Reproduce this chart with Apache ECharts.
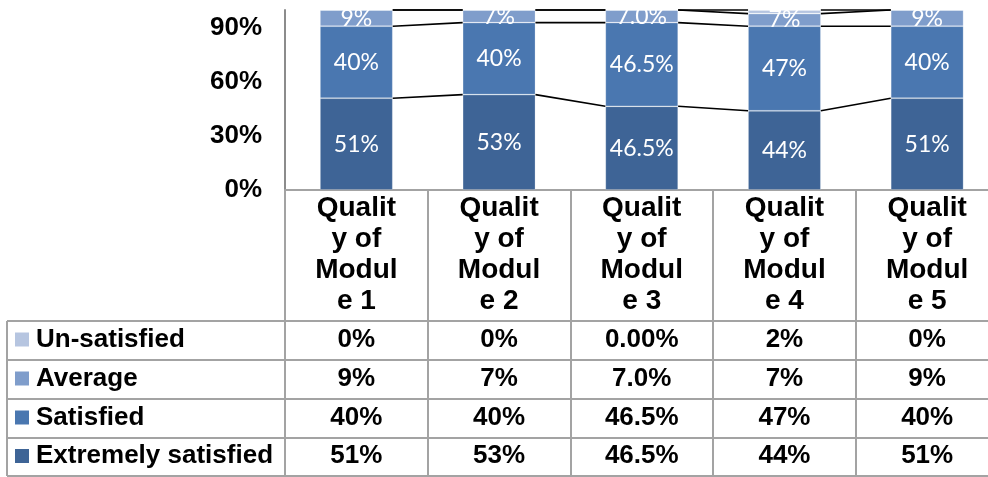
<!DOCTYPE html>
<html>
<head>
<meta charset="utf-8">
<script src="https://cdn.jsdelivr.net/npm/echarts@6/dist/echarts.min.js"></script>
<style>
  html, body { margin: 0; padding: 0; background: #fff; }
  #chart { width: 988px; height: 477px; }
</style>
</head>
<body>
<div id="chart"></div>
<script>
// Satisfaction survey, one stacked 100% column per module
const categories = ['Quality of Module 1', 'Quality of Module 2', 'Quality of Module 3', 'Quality of Module 4', 'Quality of Module 5'];
const extremelySatisfied = [51, 53, 46.5, 44, 51];
const satisfied = [40, 40, 46.5, 47, 40];
const average = [9, 7, 7, 7, 9];
const unSatisfied = [0, 0, 0, 2, 0];
// decimals used when a value is printed (Module 3 is printed with extra precision)
const extremelyDigits = [0, 0, 1, 0, 0];
const satisfiedDigits = [0, 0, 1, 0, 0];
const averageDigits = [0, 0, 1, 0, 0];
const unSatisfiedDigits = [0, 0, 2, 0, 0];
const seriesNames = ['Extremely satisfied', 'Satisfied', 'Average', 'Un-satisfied'];
const yTicks = [0, 30, 60, 90];

const colors = ['#3E6496', '#4A77B0', '#7F9DCB', '#B6C5E0'];
const BAR_RATIO = 0.51;
const GRID = { left: 285, top: 10, width: 713.5, height: 180 };
const TABLE_BOTTOM = 476;
const ROW_TOPS = [321, 360, 399, 438, 476];
const LINE_GRAY = '#a3a3a3';
const headerFont = 'bold 28px "Liberation Sans"';

const values = [extremelySatisfied, satisfied, average, unSatisfied];
const digits = [extremelyDigits, satisfiedDigits, averageDigits, unSatisfiedDigits];
const fmt = (v, d) => v.toFixed(d) + '%';

// cumulative top of each stacked segment, used for the series lines
const levels = values.map((_, k) =>
  categories.map((_, i) => values.slice(0, k + 1).reduce((s, arr) => s + arr[i], 0)));

// word wrap with a character break for words wider than the column text box
function wrapLabel(text, font, maxW) {
  const ctx = document.createElement('canvas').getContext('2d');
  ctx.font = font;
  const fits = s => ctx.measureText(s).width <= maxW;
  const lines = [];
  let cur = '';
  for (const w of text.split(' ')) {
    const trial = cur ? cur + ' ' + w : w;
    if (fits(trial)) { cur = trial; continue; }
    if (cur) { lines.push(cur); cur = ''; }
    let rest = w;
    while (!fits(rest)) {
      let n = rest.length;
      while (n > 1 && !fits(rest.slice(0, n))) n--;
      lines.push(rest.slice(0, n));
      rest = rest.slice(n);
    }
    cur = rest;
  }
  if (cur) lines.push(cur);
  return lines.join('\n');
}

const chart = echarts.init(document.getElementById('chart'), null, { renderer: 'canvas' });

const barSeries = values.map((arr, k) => ({
  name: seriesNames[k],
  type: 'bar',
  stack: 'total',
  barWidth: (BAR_RATIO * 100) + '%',
  data: arr,
  itemStyle: { color: colors[k], borderColor: 'rgba(255,255,255,0.28)', borderWidth: 0.8 },
  label: {
    show: k < 3,
    position: 'inside',
    color: '#fff',
    fontFamily: 'Lato',
    fontSize: 23,
    padding: [3, 0, 0, 0],
    formatter: p => fmt(arr[p.dataIndex], digits[k][p.dataIndex])
  },
  z: 2
}));

// lines joining each segment top to the same segment in the next column
const lineData = [];
for (let i = 0; i < categories.length - 1; i++) {
  for (let k = 0; k < levels.length; k++) lineData.push([i, k]);
}
const seriesLines = {
  type: 'custom',
  silent: true,
  z: 5,
  data: lineData,
  renderItem: (params, api) => {
    const i = api.value(0), k = api.value(1);
    const half = api.size([1, 0])[0] * BAR_RATIO / 2;
    const p0 = api.coord([i, levels[k][i]]);
    const p1 = api.coord([i + 1, levels[k][i + 1]]);
    return {
      type: 'line',
      shape: { x1: p0[0] + half, y1: p0[1], x2: p1[0] - half, y2: p1[1] },
      style: { stroke: '#000', lineWidth: 1.6 }
    };
  }
};

// data table cells below each column, top row first
const tableOrder = [3, 2, 1, 0];
const tableSeries = {
  type: 'custom',
  silent: true,
  z: 5,
  data: categories.map((_, i) => [i, 0]),
  renderItem: (params, api) => {
    const i = api.value(0);
    const x = api.coord([i, 0])[0];
    return {
      type: 'group',
      children: tableOrder.map((k, r) => ({
        type: 'text',
        style: {
          x: x,
          y: (ROW_TOPS[r] + ROW_TOPS[r + 1]) / 2 - 1,
          text: fmt(values[k][i], digits[k][i]),
          font: 'bold 26px "Liberation Sans"',
          fill: '#000',
          align: 'center',
          verticalAlign: 'middle'
        }
      }))
    };
  }
};

// row headers with legend keys, and the horizontal rules of the table
const graphics = [];
ROW_TOPS.forEach(y => graphics.push({
  type: 'line', shape: { x1: 7, y1: y, x2: 988, y2: y },
  style: { stroke: LINE_GRAY, lineWidth: 2 }, z: 10
}));
graphics.push({
  type: 'line', shape: { x1: 7, y1: ROW_TOPS[0], x2: 7, y2: TABLE_BOTTOM },
  style: { stroke: LINE_GRAY, lineWidth: 2 }, z: 10
});
tableOrder.forEach((k, r) => {
  const cy = (ROW_TOPS[r] + ROW_TOPS[r + 1]) / 2;
  graphics.push({
    type: 'rect', shape: { x: 15, y: cy - 8, width: 14, height: 14 },
    style: { fill: colors[k] }, z: 10
  });
  graphics.push({
    type: 'text', z: 10,
    style: {
      x: 36, y: cy - 1, text: seriesNames[k],
      font: 'bold 26px "Liberation Sans"', fill: '#000',
      align: 'left', verticalAlign: 'middle'
    }
  });
});

chart.setOption({
  animation: false,
  backgroundColor: '#fff',
  grid: Object.assign({ outerBoundsMode: 'none', containLabel: false }, GRID),
  xAxis: {
    type: 'category',
    data: categories,
    axisLine: { show: true, lineStyle: { color: LINE_GRAY, width: 2 } },
    axisTick: {
      show: true, interval: 0, alignWithLabel: false,
      length: TABLE_BOTTOM - (GRID.top + GRID.height),
      lineStyle: { color: LINE_GRAY, width: 2 }
    },
    axisLabel: {
      interval: 0,
      margin: 3,
      color: '#000',
      fontFamily: 'Liberation Sans',
      fontWeight: 'bold',
      fontSize: 28,
      lineHeight: 31,
      align: 'center',
      verticalAlign: 'top',
      hideOverlap: false,
      formatter: v => wrapLabel(v, headerFont, 88)
    }
  },
  yAxis: {
    type: 'value',
    min: 0,
    max: 100,
    interval: 30,
    axisLine: { show: true, lineStyle: { color: '#8c8c8c', width: 2 } },
    axisTick: { show: false },
    splitLine: { show: false },
    axisLabel: {
      showMaxLabel: false,
      margin: 23,
      color: '#000',
      fontFamily: 'Liberation Sans',
      fontWeight: 'bold',
      fontSize: 26,
      padding: [4, 0, 0, 0],
      formatter: v => (yTicks.includes(v) ? v + '%' : '')
    }
  },
  series: [...barSeries, seriesLines, tableSeries],
  graphic: graphics
});
</script>
</body>
</html>
